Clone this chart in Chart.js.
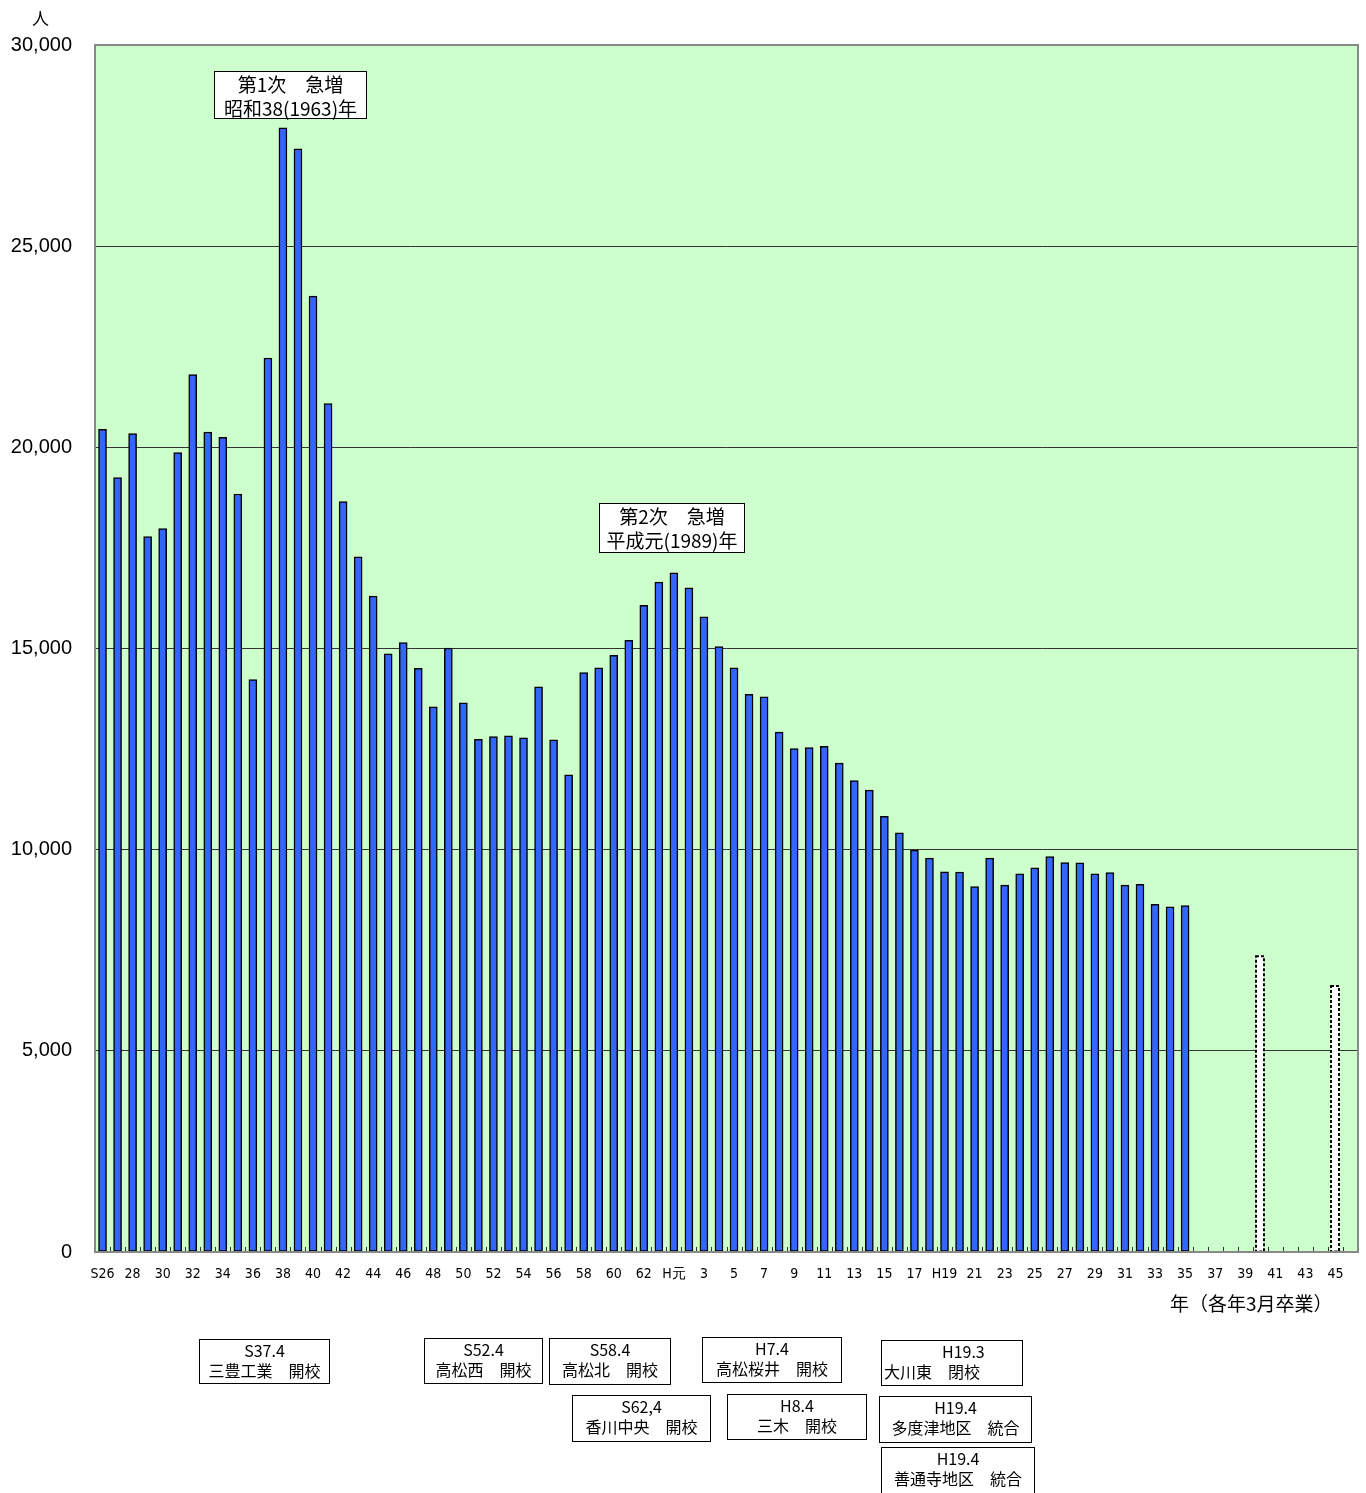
<!DOCTYPE html>
<html lang="ja">
<head>
<meta charset="utf-8">
<title>卒業者数の推移</title>
<script src="https://cdn.jsdelivr.net/npm/chart.js@4.4.1/dist/chart.umd.min.js"></script>
<style>
  html, body { margin: 0; padding: 0; background: #fff; }
  body {
    width: 1366px; height: 1493px; position: relative; overflow: hidden;
    font-family: "Noto Sans CJK JP", sans-serif; color: #000;
  }
  #chart { position: absolute; left: 0; top: 0; }
  .note {
    position: absolute; background: #fff; border: 1px solid #000;
    box-sizing: border-box; text-align: center; white-space: nowrap;
  }
  .big { font-size: 19px; line-height: 24px; }
  .small { font-size: 16px; line-height: 20px; }
  .unit { position: absolute; left: 32px; top: 5px; font-size: 17px; }
  .xtitle { position: absolute; left: 1170px; top: 1289px; font-size: 19px; }
</style>
</head>
<body>
<canvas id="chart" width="1366" height="1493"></canvas>

<div class="unit">人</div>
<div class="xtitle">年（各年3月卒業）</div>

<div class="note big" style="left:214px;top:71px;width:153px;height:48px;">第1次　急増<br>昭和38(1963)年</div>
<div class="note big" style="left:599px;top:503px;width:146px;height:50px;">第2次　急増<br>平成元(1989)年</div>

<div class="note small" style="left:199px;top:1339px;width:131px;height:45px;">S37.4<br>三豊工業　開校</div>
<div class="note small" style="left:424px;top:1338px;width:119px;height:46px;">S52.4<br>高松西　開校</div>
<div class="note small" style="left:549px;top:1338px;width:122px;height:47px;">S58.4<br>高松北　開校</div>
<div class="note small" style="left:572px;top:1395px;width:139px;height:47px;">S62,4<br>香川中央　開校</div>
<div class="note small" style="left:702px;top:1337px;width:140px;height:46px;">H7.4<br>高松桜井　開校</div>
<div class="note small" style="left:727px;top:1394px;width:140px;height:46px;">H8.4<br>三木　開校</div>
<div class="note small" style="left:881px;top:1340px;width:142px;height:46px;text-align:left;"><div style="padding-left:60px;">H19.3</div><div style="padding-left:2px;">大川東　閉校</div></div>
<div class="note small" style="left:879px;top:1396px;width:153px;height:47px;">H19.4<br>多度津地区　統合</div>
<div class="note small" style="left:881px;top:1447px;width:154px;height:48px;">H19.4<br>善通寺地区　統合</div>

<script>
// 卒業年 (S26 .. S63, H元 .. H46)
const categories = [
  'S26', '27', '28', '29', '30', '31', '32', '33', '34', '35',
  '36', '37', '38', '39', '40', '41', '42', '43', '44', '45',
  '46', '47', '48', '49', '50', '51', '52', '53', '54', '55',
  '56', '57', '58', '59', '60', '61', '62', '63',
  'H元', '2', '3', '4', '5', '6', '7', '8', '9', '10',
  '11', '12', '13', '14', '15', '16', '17', '18', 'H19', '20',
  '21', '22', '23', '24', '25', '26', '27', '28', '29', '30',
  '31', '32', '33', '34', '35', '36', '37', '38', '39', '40',
  '41', '42', '43', '44', '45', '46'
];

// 中学校卒業者数 (実績)
const graduates = [
  20450, 19250, 20340, 17780, 17980, 19870, 21810, 20380, 20250, 18840,
  14230, 22220, 27940, 27420, 23760, 21090, 18650, 17280, 16300, 14870,
  15150, 14510, 13550, 15010, 13650, 12740, 12810, 12830, 12780, 14050,
  12730, 11860, 14400, 14520, 14830, 15200, 16070, 16650,
  16880, 16510, 15790, 15050, 14520, 13860, 13800, 12920, 12510, 12540,
  12570, 12150, 11720, 11480, 10830, 10420, 9990, 9790, 9450, 9445,
  9080, 9790, 9120, 9400, 9550, 9830, 9680, 9670, 9400, 9430,
  9120, 9140, 8640, 8580, 8610, null, null, null, null, null,
  null, null, null, null, null, null
];

// 見込み (点線の棒)
const projected = categories.map(() => null);
projected[categories.lastIndexOf('40')] = 7350;
projected[categories.lastIndexOf('45')] = 6610;

const yTicks = [0, 5000, 10000, 15000, 20000, 25000, 30000];

const plotBackground = {
  id: 'plotBackground',
  beforeDraw(chart) {
    const { ctx, chartArea: a } = chart;
    ctx.save();
    ctx.fillStyle = '#ccffcc';
    ctx.fillRect(a.left, a.top, a.right - a.left, a.bottom - a.top);
    ctx.restore();
  }
};

// dotted outline for projected bars
const projectedBars = {
  id: 'projectedBars',
  afterDatasetsDraw(chart) {
    const { ctx } = chart;
    const meta = chart.getDatasetMeta(1);
    ctx.save();
    meta.data.forEach((el, i) => {
      if (projected[i] == null) return;
      const w = el.width;
      const left = Math.round(el.x - w / 2);
      ctx.fillStyle = '#fff';
      ctx.fillRect(left, el.y, w, el.base - el.y);
      ctx.strokeStyle = '#000';
      ctx.lineWidth = 2;
      ctx.setLineDash([3, 2]);
      ctx.strokeRect(left, el.y, w, el.base - el.y);
    });
    ctx.restore();
  }
};

// frame and the small inward ticks on the category axis
const plotFrame = {
  id: 'plotFrame',
  afterDraw(chart) {
    const { ctx, chartArea: a, scales } = chart;
    const x = scales.x;
    const step = x.getPixelForValue(1) - x.getPixelForValue(0);
    ctx.save();
    ctx.strokeStyle = '#333';
    ctx.lineWidth = 1;
    for (let i = 0; i <= categories.length; i++) {
      const px = Math.round(x.getPixelForValue(i) - step / 2) + 0.5;
      ctx.beginPath();
      ctx.moveTo(px, a.bottom);
      ctx.lineTo(px, a.bottom - 5);
      ctx.stroke();
    }
    ctx.strokeStyle = '#888';
    ctx.lineWidth = 2;
    ctx.strokeRect(a.left, a.top, a.right - a.left, a.bottom - a.top);
    ctx.restore();
  }
};

new Chart(document.getElementById('chart'), {
  type: 'bar',
  data: {
    labels: categories,
    datasets: [
      {
        label: '卒業者数',
        data: graduates,
        backgroundColor: '#3366ff',
        borderColor: '#000',
        borderWidth: 1.5,
        borderSkipped: false,
        barThickness: 8,
        grouped: false
      },
      {
        label: '見込み',
        data: projected,
        backgroundColor: 'rgba(0,0,0,0)',
        borderWidth: 0,
        barThickness: 8,
        grouped: false
      }
    ]
  },
  options: {
    responsive: false,
    animation: false,
    devicePixelRatio: 1,
    layout: { padding: { left: 0, right: 8, top: 45, bottom: 0 } },
    plugins: {
      legend: { display: false },
      tooltip: { enabled: false }
    },
    scales: {
      x: {
        offset: true,
        grid: { display: false },
        border: { display: false },
        ticks: {
          autoSkip: false,
          maxRotation: 0,
          minRotation: 0,
          padding: 6,
          color: '#000',
          font: { family: '"Liberation Sans Narrow", "DejaVu Sans Condensed", "Liberation Sans", sans-serif', size: 14 },
          callback: (v, i) => (i % 2 === 0 ? categories[i] : '')
        },
        afterFit: s => { s.height = 241; }
      },
      y: {
        min: 0,
        max: 30000,
        afterBuildTicks: s => { s.ticks = yTicks.map(v => ({ value: v })); },
        grid: { color: '#333', lineWidth: 1, drawTicks: false },
        border: { display: false },
        ticks: {
          padding: 23,
          color: '#000',
          font: { family: '"Liberation Sans", Arial, sans-serif', size: 20 },
          callback: v => v.toLocaleString('en-US')
        },
        afterFit: s => { s.width = 95; }
      }
    }
  },
  plugins: [plotBackground, projectedBars, plotFrame]
});
</script>
</body>
</html>
